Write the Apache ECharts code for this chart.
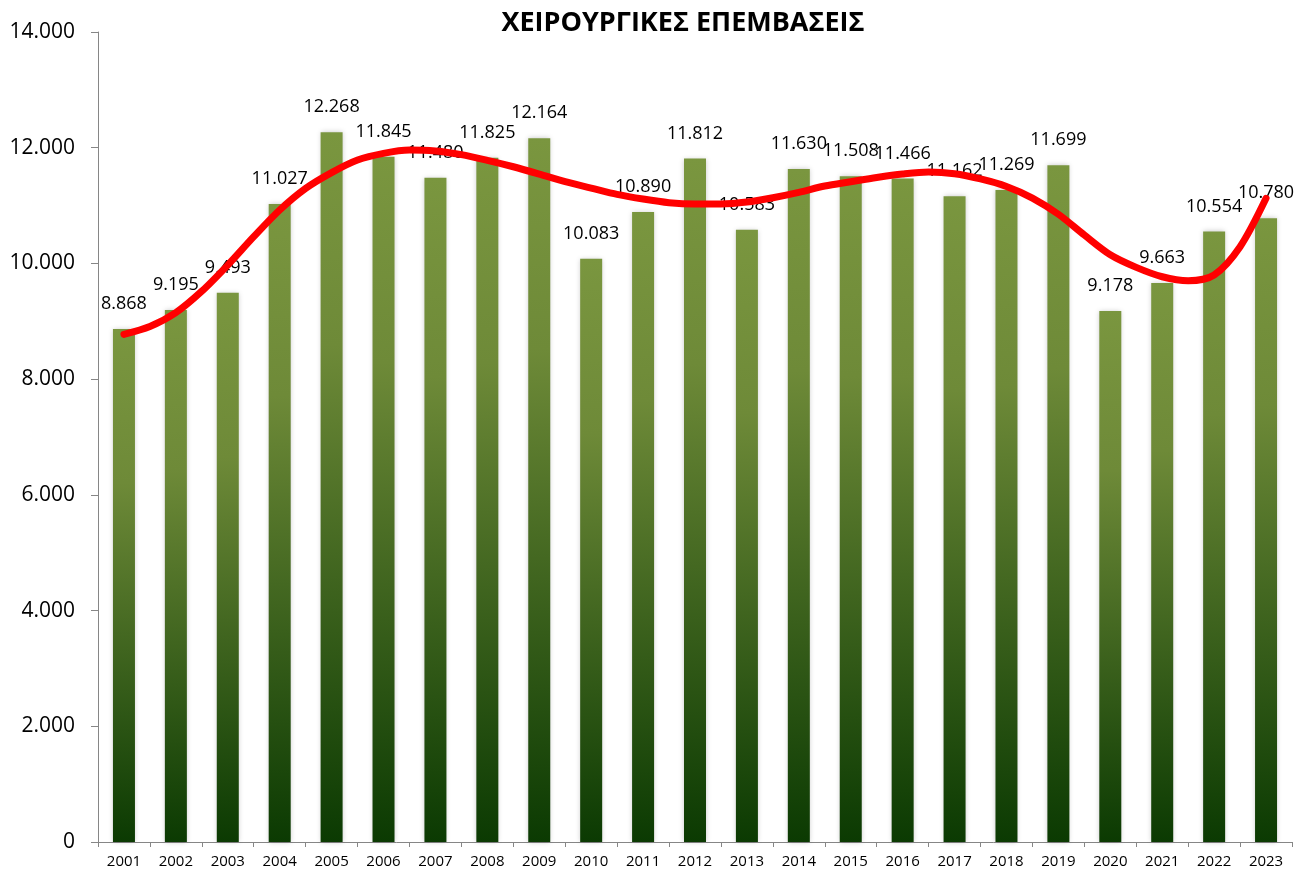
<!DOCTYPE html>
<html>
<head>
<meta charset="utf-8">
<script src="https://cdn.jsdelivr.net/npm/echarts@6/dist/echarts.min.js"></script>
<style>html,body{margin:0;padding:0;background:#fff;}#c{width:1309px;height:877px;}</style>
</head>
<body>
<div id="c"></div>
<script>
const titleText = 'ΧΕΙΡΟΥΡΓΙΚΕΣ ΕΠΕΜΒΑΣΕΙΣ';
const years = ['2001','2002','2003','2004','2005','2006','2007','2008','2009','2010','2011','2012','2013','2014','2015','2016','2017','2018','2019','2020','2021','2022','2023'];
const surgeries = [8868,9195,9493,11027,12268,11845,11480,11825,12164,10083,10890,11812,10583,11630,11508,11466,11162,11269,11699,9178,9663,10554,10780];
// trendline every half year
const trendYears = [2001,2001.5,2002,2002.5,2003,2003.5,2004,2004.5,2005,2005.5,2006,2006.5,2007,2007.5,2008,2008.5,2009,2009.5,2010,2010.5,2011,2011.5,2012,2012.5,2013,2013.5,2014,2014.5,2015,2015.5,2016,2016.5,2017,2017.5,2018,2018.5,2019,2019.5,2020,2020.5,2021,2021.5,2022,2022.5,2023];
const trend = [8774,8910,9150,9520,9972,10462,10923,11297,11570,11787,11903,11960,11943,11880,11782,11671,11545,11412,11303,11194,11113,11050,11027,11027,11061,11136,11229,11338,11412,11485,11545,11580,11550,11460,11330,11130,10850,10491,10150,9932,9770,9701,9800,10288,11125];
const yTicks = [0,2000,4000,6000,8000,10000,12000,14000];

function fmt(v){ return String(v).replace(/\B(?=(\d{3})+(?!\d))/g,'.'); }

const chart = echarts.init(document.getElementById('c'));
chart.setOption({
  animation:false,
  backgroundColor:'#ffffff',
  title:{text:titleText,left:678,top:5,textAlign:'center',
    textStyle:{fontFamily:'Open Sans',fontWeight:'bold',fontSize:27,color:'#000'}},
  grid:{left:98,right:17,top:32,bottom:35,containLabel:false},
  xAxis:[{type:'category',data:years,
    axisLine:{lineStyle:{color:'#868686',width:1}},
    axisTick:{show:true,alignWithLabel:false,length:5,lineStyle:{color:'#868686'}},
    axisLabel:{color:'#000',fontFamily:'Open Sans',fontSize:15,margin:12,interval:0}},
    {type:'value',min:2000.5,max:2023.5,show:false}],
  yAxis:{type:'value',min:yTicks[0],max:yTicks[yTicks.length-1],interval:2000,
    axisLine:{show:true,lineStyle:{color:'#868686',width:1}},
    axisTick:{show:true,length:7,lineStyle:{color:'#868686'}},
    splitLine:{show:false},
    axisLabel:{color:'#000',fontFamily:'Open Sans',fontSize:21,margin:23,formatter:v=>fmt(v)}},
  series:[
    {type:'bar',data:surgeries,barWidth:22,xAxisIndex:0,
      itemStyle:{color:new echarts.graphic.LinearGradient(0,0,0,1,[
        {offset:0,color:'#7a963f'},{offset:0.3,color:'#6e8a38'},{offset:1,color:'#0b3a02'}]),
        shadowColor:'rgba(0,0,0,0.22)',shadowBlur:5,shadowOffsetX:0,shadowOffsetY:0},
      label:{show:true,position:'top',distance:16,color:'#000',fontFamily:'Open Sans',fontSize:18,formatter:p=>fmt(p.value)},
      z:2},
    {type:'line',xAxisIndex:1,data:trendYears.map((y,i)=>[y,trend[i]]),smooth:0.3,symbol:'none',
      lineStyle:{color:'#ff0000',width:7,cap:'round'},z:5}
  ]
});
</script>
</body>
</html>
